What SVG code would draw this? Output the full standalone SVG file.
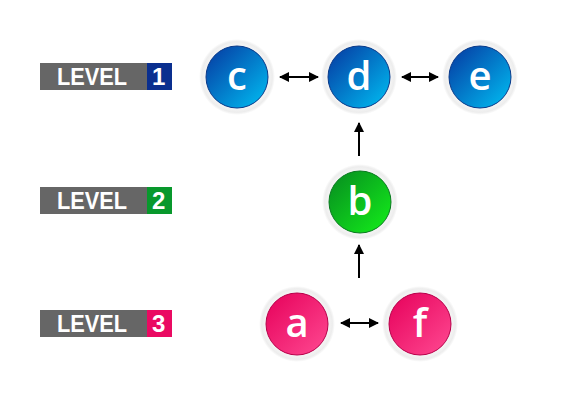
<svg xmlns="http://www.w3.org/2000/svg" width="565" height="400" viewBox="0 0 565 400">
<defs>
<linearGradient id="gBlue" x1="0" y1="0" x2="1" y2="1"><stop offset="0" stop-color="#0637a0"/><stop offset="1" stop-color="#00c0f4"/></linearGradient>
<linearGradient id="gGreen" x1="0" y1="0" x2="1" y2="1"><stop offset="0" stop-color="#068a20"/><stop offset="1" stop-color="#14f01a"/></linearGradient>
<linearGradient id="gPink" x1="0" y1="0" x2="1" y2="1"><stop offset="0" stop-color="#e6005a"/><stop offset="1" stop-color="#ff4a92"/></linearGradient>
<radialGradient id="halo" cx="0.5" cy="0.5" r="0.5"><stop offset="0.8" stop-color="#f6f6f6"/><stop offset="0.93" stop-color="#ededed"/><stop offset="1" stop-color="#ffffff"/></radialGradient>
<marker id="ah" viewBox="0 0 10 10" refX="9" refY="5" markerWidth="10" markerHeight="10" markerUnits="userSpaceOnUse" orient="auto-start-reverse"><path d="M0,0 L10,5 L0,10 z" fill="#000"/></marker>
</defs>
<style>
.halo{fill:url(#halo)}
.lt{font-family:"Liberation Sans",Arial,sans-serif;font-weight:bold;font-size:24px;fill:#fff}
.nt{font-family:"Open Sans","DejaVu Sans",sans-serif;font-weight:600;font-size:40px;fill:#fff;text-anchor:middle}
.edge{stroke:#000;stroke-width:2;fill:none;marker-end:url(#ah);marker-start:url(#ah)}
.edge1{stroke:#000;stroke-width:2;fill:none;marker-end:url(#ah)}
</style>
<g id="level1"><rect x="40" y="63" width="107" height="27" fill="#666"/><rect x="147" y="63" width="25" height="27" fill="#0a2f8f"/><text class="lt" x="57" y="85" textLength="70" lengthAdjust="spacingAndGlyphs">LEVEL</text><text class="lt" x="152" y="85">1</text></g>
<g id="level2"><rect x="40" y="187" width="107" height="27" fill="#666"/><rect x="147" y="187" width="25" height="27" fill="#08982c"/><text class="lt" x="57" y="209" textLength="70" lengthAdjust="spacingAndGlyphs">LEVEL</text><text class="lt" x="152" y="209">2</text></g>
<g id="level3"><rect x="40" y="310" width="107" height="27" fill="#666"/><rect x="147" y="310" width="25" height="27" fill="#ea0a62"/><text class="lt" x="57" y="332" textLength="70" lengthAdjust="spacingAndGlyphs">LEVEL</text><text class="lt" x="152" y="332">3</text></g>
<g id="connectors">
<line class="edge" x1="280" y1="77" x2="318" y2="77"/>
<line class="edge" x1="402" y1="77" x2="438" y2="77"/>
<line class="edge1" x1="359" y1="156" x2="359" y2="123"/>
<line class="edge1" x1="359" y1="278" x2="359" y2="245"/>
<line class="edge" x1="341" y1="323" x2="378" y2="323"/>
</g>
<g id="c"><circle class="halo" cx="237" cy="77" r="38"/><circle cx="237" cy="77" r="31" fill="url(#gBlue)" stroke="#0a3a8a" stroke-width="1"/><text class="nt" x="237" y="90">c</text></g>
<g id="d"><circle class="halo" cx="359" cy="77" r="38"/><circle cx="359" cy="77" r="31" fill="url(#gBlue)" stroke="#0a3a8a" stroke-width="1"/><text class="nt" x="359" y="90">d</text></g>
<g id="e"><circle class="halo" cx="480" cy="77" r="38"/><circle cx="480" cy="77" r="31" fill="url(#gBlue)" stroke="#0a3a8a" stroke-width="1"/><text class="nt" x="480" y="90">e</text></g>
<g id="b"><circle class="halo" cx="360" cy="202" r="38"/><circle cx="360" cy="202" r="31" fill="url(#gGreen)" stroke="#0a7a20" stroke-width="1"/><text class="nt" x="360" y="215">b</text></g>
<g id="a"><circle class="halo" cx="297" cy="324" r="38"/><circle cx="297" cy="324" r="31" fill="url(#gPink)" stroke="#b8004a" stroke-width="1"/><text class="nt" x="297" y="337">a</text></g>
<g id="f"><circle class="halo" cx="420" cy="324" r="38"/><circle cx="420" cy="324" r="31" fill="url(#gPink)" stroke="#b8004a" stroke-width="1"/><text class="nt" x="420" y="337">f</text></g>
</svg>
